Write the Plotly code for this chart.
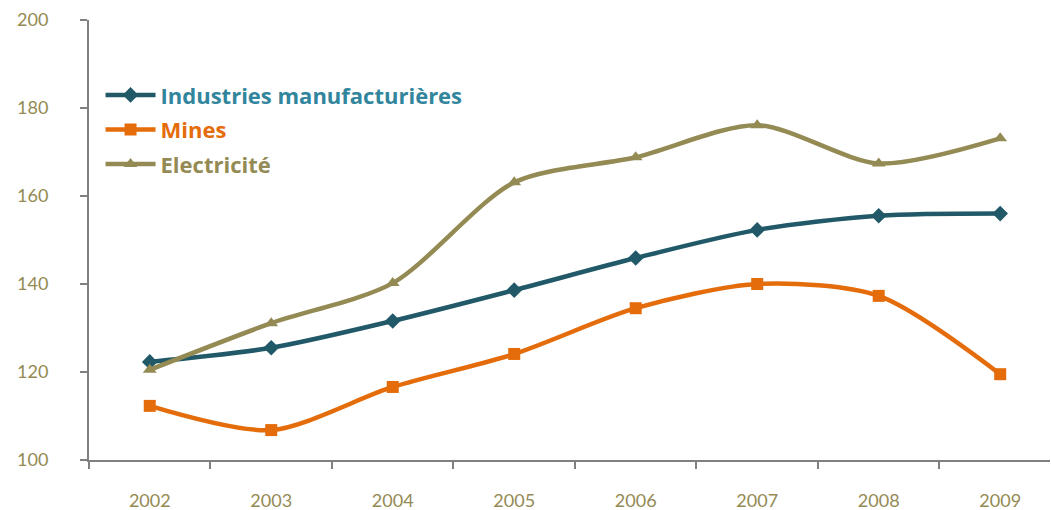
import plotly.graph_objects as go

years = ["2002", "2003", "2004", "2005", "2006", "2007", "2008", "2009"]
industries = [122.3, 125.5, 131.6, 138.6, 145.9, 152.3, 155.5, 156.0]
mines = [112.3, 106.8, 116.6, 124.1, 134.5, 140.0, 137.3, 119.5]
electricite = [120.5, 131.1, 140.2, 163.1, 168.8, 176.1, 167.4, 173.1]

series = [
    ("Industries manufacturières", industries, "#215968", "#31859C", "diamond"),
    ("Mines", mines, "#E46C0A", "#E46C0A", "square"),
    ("Electricité", electricite, "#948A54", "#948A54", "triangle-up"),
]

x = list(range(len(years)))
fig = go.Figure()
for i, (name, vals, col, txtcol, sym) in enumerate(series):
    fig.add_trace(go.Scatter(
        x=x, y=vals, mode="lines+markers",
        name=f"<b><span style='color:{txtcol}'>{name}</span></b>",
        legendgroup=f"g{i}",
        line=dict(color=col, width=4.5, shape="spline", smoothing=0.8),
        marker=dict(symbol=sym, size=12, color=col),
    ))

axis_col = "#808080"
tick_font = dict(family="Lato, Open Sans, sans-serif", size=18, color="#948A54")

fig.update_layout(
    width=1051, height=510,
    margin=dict(l=89, r=1, t=20, b=50),
    plot_bgcolor="white", paper_bgcolor="white",
    showlegend=True,
    legend=dict(
        x=0.012, y=0.877, xanchor="left", yanchor="top",
        font=dict(family="Open Sans, sans-serif", size=22),
        bgcolor="rgba(0,0,0,0)", traceorder="grouped", tracegroupgap=3,
        itemwidth=50,
    ),
    xaxis=dict(
        range=[-0.5, 7.41], tickmode="array", tickvals=x, ticktext=years,
        ticks="", showgrid=False, zeroline=False, automargin=False,
        showline=True, linecolor=axis_col, linewidth=2,
        tickfont=tick_font, ticklabelstandoff=23,
        minor=dict(tick0=-0.5, dtick=1, ticks="outside", ticklen=7,
                   tickcolor=axis_col, tickwidth=2, showgrid=False),
    ),
    yaxis=dict(
        range=[100, 200], tickmode="array", tickvals=[100, 120, 140, 160, 180, 200],
        ticks="outside", ticklen=7, tickcolor=axis_col, tickwidth=2,
        showgrid=False, zeroline=False, automargin=False,
        showline=True, linecolor=axis_col, linewidth=2,
        tickfont=tick_font, ticklabelstandoff=28,
    ),
)

fig.write_html("out.html")
